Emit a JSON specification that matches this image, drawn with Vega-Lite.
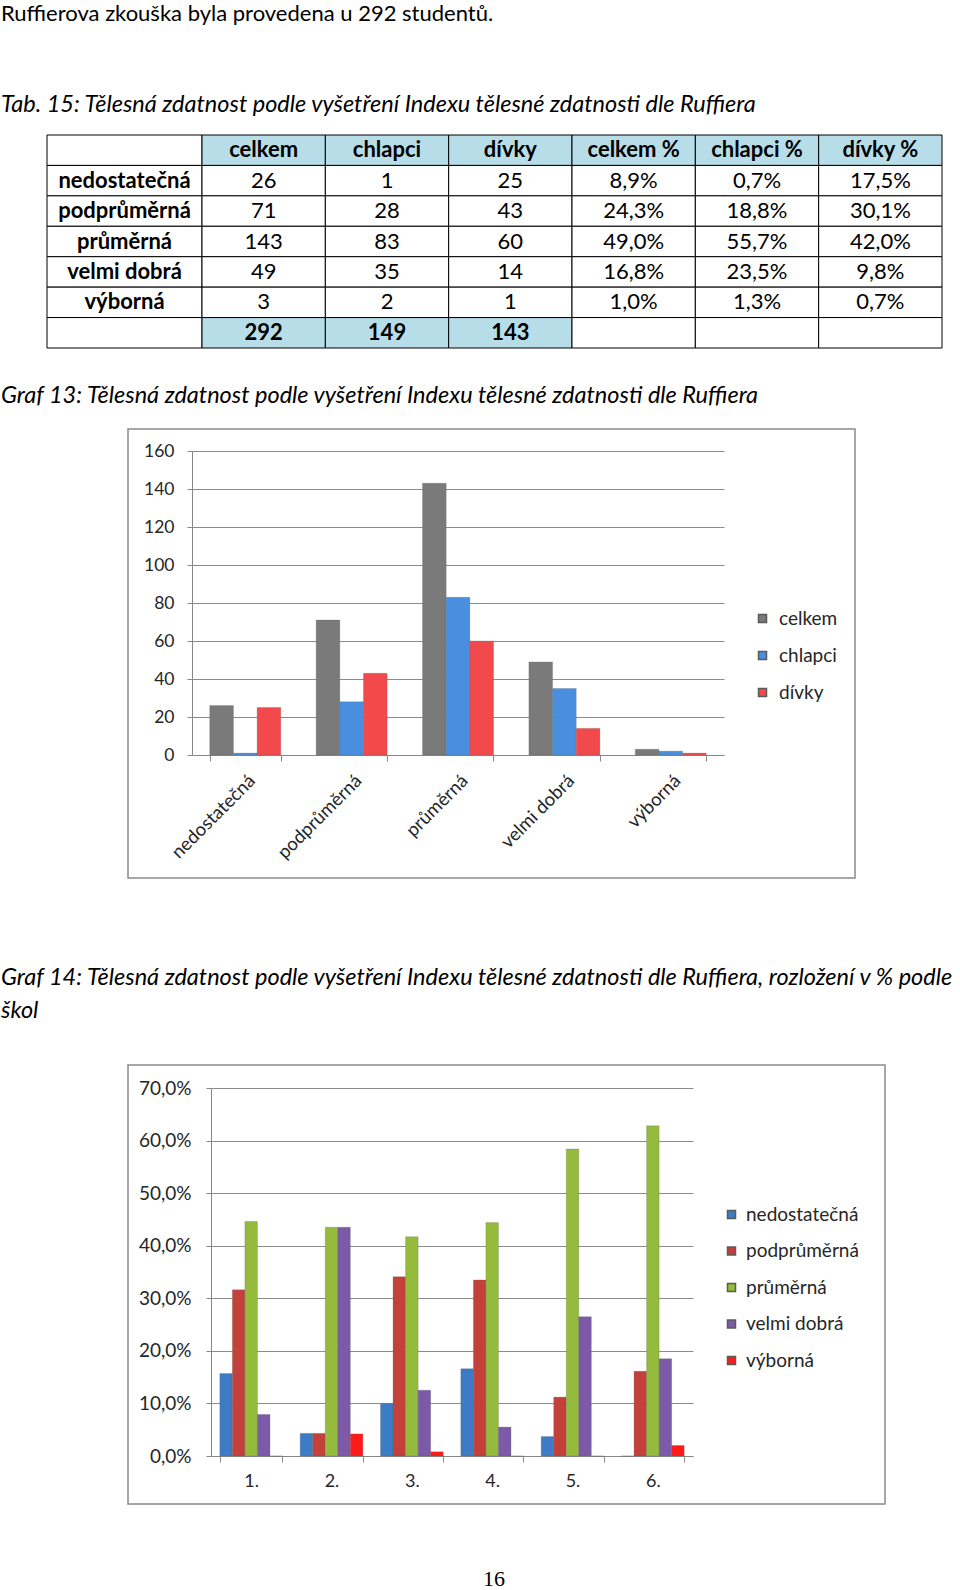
{
  "$schema": "https://vega.github.io/schema/vega-lite/v6.json",
  "padding": 0,
  "background": "white",
  "columns": 2,
  "spacing": 0,
  "bounds": "flush",
  "resolve": {"scale": {"color": "independent", "xOffset": "independent"}, "legend": {"color": "independent"}},
  "config": {
    "view": {"stroke": null},
    "font": "Lato",
    "locale": {"number": {"decimal": ",", "thousands": " ", "grouping": [3], "currency": ["", " Kč"]}},
    "axis": {"labelFont": "Lato", "labelColor": "#262626", "domainColor": "#878787", "tickColor": "#878787", "gridColor": "#8c8c8c", "gridWidth": 1, "domainWidth": 1, "titleFont": "Lato"},
    "legend": {"labelFont": "Lato", "labelColor": "#262626"}
  },
  "concat": [
    {"width": 127, "height": 0, "data": {"values": []}, "mark": "point"},
    {
      "width": 833,
      "height": 429,
      "title": {
        "text": "Ruffierova zkouška byla provedena u 292 studentů.",
        "subtitle": "Tab. 15: Tělesná zdatnost podle vyšetření Indexu tělesné zdatnosti dle Ruffiera",
        "anchor": "start", "frame": "group", "orient": "top", "offset": -117, "dx": -127,
        "font": "Lato", "fontSize": 22, "fontWeight": "normal", "color": "#000000",
        "subtitleFont": "Lato", "subtitleFontSize": 23.5, "subtitleFontStyle": "italic", "subtitleColor": "#000000",
        "subtitlePadding": 67
      },
      "layer": [
        {
          "data": {"values": [
            {"r": "h", "c": "lbl", "t": ""},
            {"r": "1", "c": "lbl", "t": "nedostatečná"},
            {"r": "2", "c": "lbl", "t": "podprůměrná"},
            {"r": "3", "c": "lbl", "t": "průměrná"},
            {"r": "4", "c": "lbl", "t": "velmi dobrá"},
            {"r": "5", "c": "lbl", "t": "výborná"},
            {"r": "t", "c": "lbl", "t": ""}
          ]},
          "encoding": {
            "x": {"field": "c", "type": "nominal", "axis": null, "scale": {"domain": ["lbl"], "range": [-81, 74], "paddingInner": 0, "paddingOuter": 0}},
            "y": {"field": "r", "type": "nominal", "axis": null, "scale": {"domain": ["h", "1", "2", "3", "4", "5", "t"], "range": [135, 348], "paddingInner": 0, "paddingOuter": 0}}
          },
          "layer": [
            {"mark": {"type": "rect", "fill": "white", "stroke": "black", "strokeWidth": 1}},
            {"mark": {"type": "text", "fontWeight": "bold", "fontSize": 22, "font": "Lato", "color": "black"}, "encoding": {"text": {"field": "t"}}}
          ]
        },
        {
          "data": {"values": [
            {"r": "h", "c": "celkem", "t": "celkem"}, {"r": "h", "c": "chlapci", "t": "chlapci"}, {"r": "h", "c": "dívky", "t": "dívky"},
            {"r": "h", "c": "celkem %", "t": "celkem %"}, {"r": "h", "c": "chlapci %", "t": "chlapci %"}, {"r": "h", "c": "dívky %", "t": "dívky %"},
            {"r": "1", "c": "celkem", "t": "26"}, {"r": "1", "c": "chlapci", "t": "1"}, {"r": "1", "c": "dívky", "t": "25"},
            {"r": "1", "c": "celkem %", "t": "8,9%"}, {"r": "1", "c": "chlapci %", "t": "0,7%"}, {"r": "1", "c": "dívky %", "t": "17,5%"},
            {"r": "2", "c": "celkem", "t": "71"}, {"r": "2", "c": "chlapci", "t": "28"}, {"r": "2", "c": "dívky", "t": "43"},
            {"r": "2", "c": "celkem %", "t": "24,3%"}, {"r": "2", "c": "chlapci %", "t": "18,8%"}, {"r": "2", "c": "dívky %", "t": "30,1%"},
            {"r": "3", "c": "celkem", "t": "143"}, {"r": "3", "c": "chlapci", "t": "83"}, {"r": "3", "c": "dívky", "t": "60"},
            {"r": "3", "c": "celkem %", "t": "49,0%"}, {"r": "3", "c": "chlapci %", "t": "55,7%"}, {"r": "3", "c": "dívky %", "t": "42,0%"},
            {"r": "4", "c": "celkem", "t": "49"}, {"r": "4", "c": "chlapci", "t": "35"}, {"r": "4", "c": "dívky", "t": "14"},
            {"r": "4", "c": "celkem %", "t": "16,8%"}, {"r": "4", "c": "chlapci %", "t": "23,5%"}, {"r": "4", "c": "dívky %", "t": "9,8%"},
            {"r": "5", "c": "celkem", "t": "3"}, {"r": "5", "c": "chlapci", "t": "2"}, {"r": "5", "c": "dívky", "t": "1"},
            {"r": "5", "c": "celkem %", "t": "1,0%"}, {"r": "5", "c": "chlapci %", "t": "1,3%"}, {"r": "5", "c": "dívky %", "t": "0,7%"},
            {"r": "t", "c": "celkem", "t": "292"}, {"r": "t", "c": "chlapci", "t": "149"}, {"r": "t", "c": "dívky", "t": "143"},
            {"r": "t", "c": "celkem %", "t": ""}, {"r": "t", "c": "chlapci %", "t": ""}, {"r": "t", "c": "dívky %", "t": ""}
          ]},
          "encoding": {
            "x": {"field": "c", "type": "nominal", "axis": null, "scale": {"domain": ["celkem", "chlapci", "dívky", "celkem %", "chlapci %", "dívky %"], "range": [74, 814], "paddingInner": 0, "paddingOuter": 0}},
            "y": {"field": "r", "type": "nominal", "axis": null, "scale": {"domain": ["h", "1", "2", "3", "4", "5", "t"], "range": [135, 348], "paddingInner": 0, "paddingOuter": 0}}
          },
          "layer": [
            {"mark": {"type": "rect", "stroke": "black", "strokeWidth": 1},
             "encoding": {"fill": {"condition": {"test": "datum.r == 'h' || (datum.r == 't' && datum.t != '')", "value": "#b7dde8"}, "value": "white"}}},
            {"transform": [{"filter": "datum.r == 'h' || datum.r == 't'"}],
             "mark": {"type": "text", "fontWeight": "bold", "fontSize": 22, "font": "Lato", "color": "black"}, "encoding": {"text": {"field": "t"}}},
            {"transform": [{"filter": "datum.r != 'h' && datum.r != 't'"}],
             "mark": {"type": "text", "fontWeight": "normal", "fontSize": 22, "font": "Lato", "color": "black"}, "encoding": {"text": {"field": "t"}}}
          ]
        }
      ],
      "resolve": {"scale": {"x": "independent"}}
    },
    {"width": 127, "height": 636, "data": {"values": []}, "mark": "point"},
    {
      "width": 727,
      "height": 449,
      "view": {"stroke": "#8a8a8a", "strokeWidth": 1.5},
      "title": {"text": "Graf 13: Tělesná zdatnost podle vyšetření Indexu tělesné zdatnosti dle Ruffiera", "anchor": "start", "frame": "group", "orient": "top", "dx": -127, "offset": 22, "font": "Lato", "fontSize": 23.5, "fontStyle": "italic", "fontWeight": "normal", "color": "#000000"},
      "data": {"values": [
        {"kategorie": "nedostatečná", "skupina": "celkem", "pocet": 26},
        {"kategorie": "nedostatečná", "skupina": "chlapci", "pocet": 1},
        {"kategorie": "nedostatečná", "skupina": "dívky", "pocet": 25},
        {"kategorie": "podprůměrná", "skupina": "celkem", "pocet": 71},
        {"kategorie": "podprůměrná", "skupina": "chlapci", "pocet": 28},
        {"kategorie": "podprůměrná", "skupina": "dívky", "pocet": 43},
        {"kategorie": "průměrná", "skupina": "celkem", "pocet": 143},
        {"kategorie": "průměrná", "skupina": "chlapci", "pocet": 83},
        {"kategorie": "průměrná", "skupina": "dívky", "pocet": 60},
        {"kategorie": "velmi dobrá", "skupina": "celkem", "pocet": 49},
        {"kategorie": "velmi dobrá", "skupina": "chlapci", "pocet": 35},
        {"kategorie": "velmi dobrá", "skupina": "dívky", "pocet": 14},
        {"kategorie": "výborná", "skupina": "celkem", "pocet": 3},
        {"kategorie": "výborná", "skupina": "chlapci", "pocet": 2},
        {"kategorie": "výborná", "skupina": "dívky", "pocet": 1}
      ]},
      "mark": {"type": "bar", "stroke": "#5a5a5a", "strokeWidth": 0.4, "strokeOpacity": 0.6},
      "encoding": {
        "x": {"field": "kategorie", "type": "nominal", "sort": ["nedostatečná", "podprůměrná", "průměrná", "velmi dobrá", "výborná"],
              "scale": {"range": [64, 596], "paddingInner": 0.333, "paddingOuter": 0.167},
              "axis": {"title": null, "offset": -123, "labelAngle": -45, "tickBand": "extent", "tickSize": 6, "labelFontSize": 18.5, "labelPadding": 10, "grid": false}},
        "xOffset": {"field": "skupina", "type": "nominal", "sort": ["celkem", "chlapci", "dívky"], "scale": {"domain": ["celkem", "chlapci", "dívky"], "range": [0, 71], "paddingInner": 0, "paddingOuter": 0}},
        "y": {"field": "pocet", "type": "quantitative",
              "scale": {"domain": [0, 160], "range": [326, 22], "nice": false},
              "axis": {"title": null, "offset": -64, "values": [0, 20, 40, 60, 80, 100, 120, 140, 160], "grid": true, "tickSize": 5, "labelFontSize": 17.5, "labelPadding": 13}},
        "color": {"field": "skupina", "type": "nominal",
                  "scale": {"domain": ["celkem", "chlapci", "dívky"], "range": ["#7a7a7a", "#4a8fdf", "#f24a4c"]},
                  "legend": {"title": null, "orient": "none", "legendX": 625, "legendY": 180, "symbolType": "square", "symbolSize": 64, "labelFontSize": 19, "rowPadding": 17, "labelOffset": 7}}
      }
    },
    {
      "width": 127,
      "height": 525,
      "data": {"values": []},
      "mark": "point",
      "title": {"text": "16", "orient": "bottom", "anchor": "start", "frame": "group", "dx": 482, "offset": -21, "font": "Liberation Serif", "fontSize": 22, "fontWeight": "normal", "color": "#000000"}
    },
    {
      "width": 757,
      "height": 439,
      "view": {"stroke": "#8a8a8a", "strokeWidth": 1.5},
      "title": {"text": ["Graf 14: Tělesná zdatnost podle vyšetření Indexu tělesné zdatnosti dle Ruffiera,  rozložení v % podle", "škol"], "lineHeight": 33, "anchor": "start", "frame": "group", "orient": "top", "dx": -127, "offset": 43, "font": "Lato", "fontSize": 23.5, "fontStyle": "italic", "fontWeight": "normal", "color": "#000000"},
      "data": {"values": [
        {"skola": "1.", "hodnoceni": "nedostatečná", "podil": 0.157},
        {"skola": "1.", "hodnoceni": "podprůměrná", "podil": 0.316},
        {"skola": "1.", "hodnoceni": "průměrná", "podil": 0.446},
        {"skola": "1.", "hodnoceni": "velmi dobrá", "podil": 0.079},
        {"skola": "1.", "hodnoceni": "výborná", "podil": 0},
        {"skola": "2.", "hodnoceni": "nedostatečná", "podil": 0.043},
        {"skola": "2.", "hodnoceni": "podprůměrná", "podil": 0.043},
        {"skola": "2.", "hodnoceni": "průměrná", "podil": 0.435},
        {"skola": "2.", "hodnoceni": "velmi dobrá", "podil": 0.435},
        {"skola": "2.", "hodnoceni": "výborná", "podil": 0.042},
        {"skola": "3.", "hodnoceni": "nedostatečná", "podil": 0.1},
        {"skola": "3.", "hodnoceni": "podprůměrná", "podil": 0.341},
        {"skola": "3.", "hodnoceni": "průměrná", "podil": 0.417},
        {"skola": "3.", "hodnoceni": "velmi dobrá", "podil": 0.125},
        {"skola": "3.", "hodnoceni": "výborná", "podil": 0.008},
        {"skola": "4.", "hodnoceni": "nedostatečná", "podil": 0.166},
        {"skola": "4.", "hodnoceni": "podprůměrná", "podil": 0.335},
        {"skola": "4.", "hodnoceni": "průměrná", "podil": 0.444},
        {"skola": "4.", "hodnoceni": "velmi dobrá", "podil": 0.055},
        {"skola": "4.", "hodnoceni": "výborná", "podil": 0},
        {"skola": "5.", "hodnoceni": "nedostatečná", "podil": 0.037},
        {"skola": "5.", "hodnoceni": "podprůměrná", "podil": 0.112},
        {"skola": "5.", "hodnoceni": "průměrná", "podil": 0.584},
        {"skola": "5.", "hodnoceni": "velmi dobrá", "podil": 0.265},
        {"skola": "5.", "hodnoceni": "výborná", "podil": 0},
        {"skola": "6.", "hodnoceni": "nedostatečná", "podil": 0},
        {"skola": "6.", "hodnoceni": "podprůměrná", "podil": 0.161},
        {"skola": "6.", "hodnoceni": "průměrná", "podil": 0.628},
        {"skola": "6.", "hodnoceni": "velmi dobrá", "podil": 0.185},
        {"skola": "6.", "hodnoceni": "výborná", "podil": 0.02}
      ]},
      "mark": {"type": "bar", "stroke": "#5a5a5a", "strokeWidth": 0.4, "strokeOpacity": 0.6},
      "encoding": {
        "x": {"field": "skola", "type": "nominal", "sort": ["1.", "2.", "3.", "4.", "5.", "6."],
              "scale": {"range": [83, 565], "paddingInner": 0.22, "paddingOuter": 0.11},
              "axis": {"title": null, "offset": -48, "labelAngle": 0, "tickBand": "extent", "tickSize": 6, "labelFontSize": 18, "labelPadding": 10, "grid": false}},
        "xOffset": {"field": "hodnoceni", "type": "nominal", "sort": ["nedostatečná", "podprůměrná", "průměrná", "velmi dobrá", "výborná"], "scale": {"domain": ["nedostatečná", "podprůměrná", "průměrná", "velmi dobrá", "výborná"], "range": [0, 62.7], "paddingInner": 0, "paddingOuter": 0}},
        "y": {"field": "podil", "type": "quantitative",
              "scale": {"domain": [0, 0.7], "range": [391, 23], "nice": false},
              "axis": {"title": null, "offset": -83, "values": [0, 0.1, 0.2, 0.3, 0.4, 0.5, 0.6, 0.7], "format": ".1%", "grid": true, "tickSize": 5, "labelFontSize": 19, "labelPadding": 15}},
        "color": {"field": "hodnoceni", "type": "nominal",
                  "scale": {"domain": ["nedostatečná", "podprůměrná", "průměrná", "velmi dobrá", "výborná"], "range": ["#3c7cc6", "#c3403b", "#95bb3c", "#7d5aa8", "#ff1a1a"]},
                  "legend": {"title": null, "orient": "none", "legendX": 594, "legendY": 140, "symbolType": "square", "symbolSize": 64, "labelFontSize": 19, "rowPadding": 16.5, "labelOffset": 5}}
      }
    }
  ]
}
